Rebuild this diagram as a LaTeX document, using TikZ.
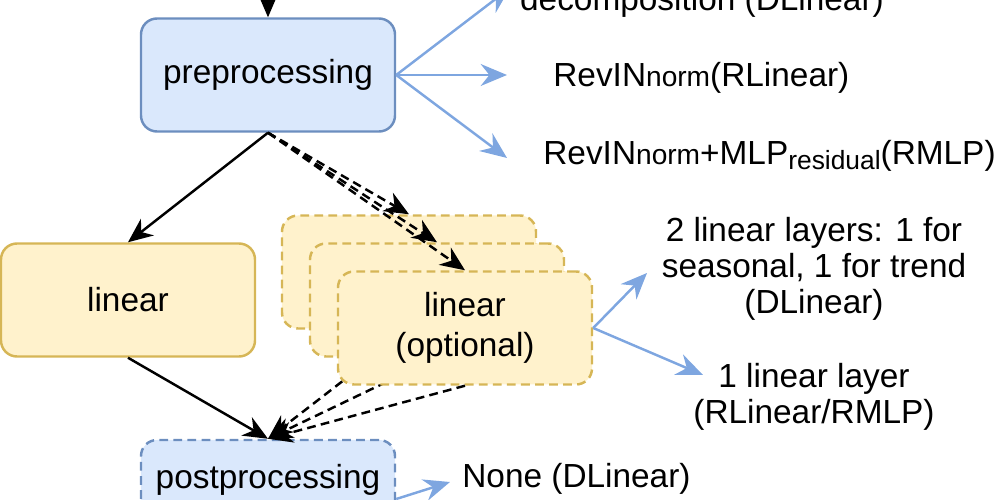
\documentclass[tikz,border=0pt]{standalone}
\usepackage{xcolor}
\usepackage{fontspec}
\setmainfont{Liberation Sans}
\usepackage{tikz}
\usetikzlibrary{arrows.meta, positioning}

\definecolor{bluefill}{HTML}{DAE8FC}
\definecolor{bluedraw}{HTML}{6C8EBF}
\definecolor{yellowfill}{HTML}{FFF2CC}
\definecolor{yellowdraw}{HTML}{D6B656}
\definecolor{arrowblue}{HTML}{7EA6E0}

\newcommand{\diafont}{\fontsize{19}{23}\selectfont}
\newcommand{\notefont}{\fontsize{19}{20.5}\selectfont}
\newcommand{\normsize}[1]{{\fontsize{16}{16}\selectfont #1}}
\newcommand{\lowsub}[1]{\raisebox{-2.8pt}{\fontsize{15}{15}\selectfont #1}}

\begin{document}
\begin{tikzpicture}[node distance=45mm, on grid,
    box/.style={rectangle, rounded corners=3.2mm, minimum width=50.8mm, minimum height=22.6mm, line width=1.4pt, align=center, font=\diafont},
    bluebox/.style={box, fill=bluefill, draw=bluedraw},
    yellowbox/.style={box, fill=yellowfill, draw=yellowdraw},
    dashbox/.style={dash pattern=on 5pt off 3pt},
    txt/.style={inner sep=0pt, align=center, font=\notefont},
    arr/.style={line width=1.4pt, -{Stealth[length=14pt, width=12pt, inset=4.5pt]}},
    dasharr/.style={arr, dash pattern=on 5pt off 3pt},
    bluearr/.style={line width=1.4pt, draw=arrowblue, -{Stealth[length=15pt, width=12.5pt, inset=5pt]}}]
    \useasboundingbox (-53.6mm,15mm) rectangle (146.4mm,-85mm);
    \clip (-53.6mm,15mm) rectangle (146.4mm,-85mm);

    \node (pre) [bluebox] {preprocessing};
    \node (lin) [yellowbox, below left=45mm and 28mm of pre] {linear};
    \node (opt1) [yellowbox, dashbox, below right=39.4mm and 28.2mm of pre] {};
    \node (opt2) [yellowbox, dashbox, below right=5.6mm and 5.6mm of opt1] {};
    \node (post) [bluebox, dashbox, below=84.8mm of pre, minimum height=23.6mm, text height=14pt, text depth=26.4pt] {postprocessing};

    \draw [dasharr] (opt1.south) -- (post.north);
    \draw [dasharr] (opt2.south) -- (post.north);
    \node (opt3) [yellowbox, dashbox, below right=5.6mm and 5.6mm of opt2] {linear\\(optional)};
    \draw [dasharr] (opt3.south) -- (post.north);

    \node (dec) [txt, above right=12.8mm and 86.8mm of pre, anchor=base] {decomposition (DLinear)};
    \node (rev1) [txt, below right=2.4mm and 57mm of pre, anchor=base west] {RevIN\normsize{norm}(RLinear)};
    \node (rev2) [txt, below right=18mm and 55mm of pre, anchor=base west] {RevIN\normsize{norm}+MLP\lowsub{residual}(RMLP)};
    \node (two) [txt, above right=11.8mm and 69.8mm of opt3] {2 linear layers: 1 for\\seasonal, 1 for trend\\(DLinear)};
    \node (one) [txt, below right=13.8mm and 69.8mm of opt3] {1 linear layer\\(RLinear/RMLP)};
    \node (none) [txt, above right=2.2mm and 38.8mm of post, anchor=base west] {None (DLinear)};

    \coordinate [above=23mm of pre] (top);
    \coordinate [above right=17.4mm and 48.4mm of pre] (tdec);
    \coordinate [right=47.8mm of pre] (trev1);
    \coordinate [below right=16.6mm and 47.8mm of pre] (trev2);
    \coordinate [above right=11mm and 36.4mm of opt3] (ttwo);
    \coordinate [below right=9.4mm and 47.6mm of opt3] (tone);
    \coordinate [above right=3.4mm and 36.4mm of post] (tnone);

    \draw [arr] (top) -- (pre);
    \draw [arr] (pre.south) -- (lin.north);
    \draw [dasharr] (pre.south) -- (opt1.north);
    \draw [dasharr] (pre.south) -- (opt2.north);
    \draw [dasharr] (pre.south) -- (opt3.north);
    \draw [arr] (lin.south) -- (post.north);

    \draw [bluearr] (pre.east) -- (tdec);
    \draw [bluearr] (pre.east) -- (trev1);
    \draw [bluearr] (pre.east) -- (trev2);
    \draw [bluearr] (opt3.east) -- (ttwo);
    \draw [bluearr] (opt3.east) -- (tone);
    \draw [bluearr] (post.east) -- (tnone);
\end{tikzpicture}
\end{document}
